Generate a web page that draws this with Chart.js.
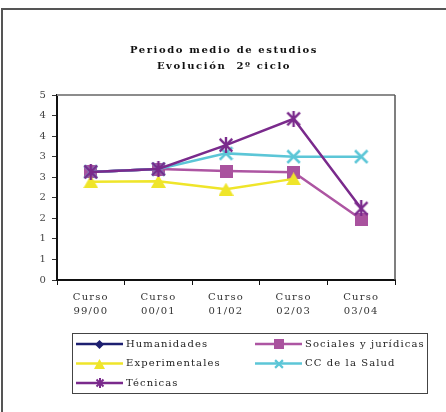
<!DOCTYPE html>
<html>
<head>
<meta charset="utf-8">
<script src="https://cdn.jsdelivr.net/npm/chart.js@4/dist/chart.umd.min.js"></script>
<style>
  html, body { margin: 0; padding: 0; background: #fff; }
  #wrap { width: 446px; height: 412px; position: relative; }
</style>
</head>
<body>
<div id="wrap"><canvas id="c" width="446" height="412"></canvas></div>
<script>
// Courses (two-line category labels)
const categories = [
  ['Curso', '99/00'],
  ['Curso', '00/01'],
  ['Curso', '01/02'],
  ['Curso', '02/03'],
  ['Curso', '03/04']
];

// Average study period, second cycle, by branch
const humanidades    = [2.63, 2.70, null, null, null];
const sociales       = [2.63, 2.70, 2.65, 2.62, 1.48];
const experimentales = [2.39, 2.40, 2.21, 2.46, null];
const ccSalud        = [2.63, 2.70, 3.08, 3.00, 3.00];
const tecnicas       = [2.63, 2.70, 3.28, 3.92, 1.74];

const seriesNames = ['Humanidades', 'Sociales y jurídicas', 'Experimentales', 'CC de la Salud', 'Técnicas'];

// Value axis range and step (labels shown without decimals)
const yMin = 0, yMax = 4.5, yStep = 0.5;

const COLORS = {
  hum: '#1d1f70',
  soc: '#ad55a2',
  socFill: '#a9529e',
  exp: '#efe52a',
  cc:  '#5cc6d7',
  tec: '#7a2a8c'
};

// ---- marker sprites ----
function sprite(w, h, draw) {
  const c = document.createElement('canvas');
  c.width = w; c.height = h;
  draw(c.getContext('2d'), w, h);
  return c;
}
function diamond(s, color) {
  return sprite(s, s, (g, w, h) => {
    g.fillStyle = color;
    g.beginPath();
    g.moveTo(w / 2, 0); g.lineTo(w, h / 2); g.lineTo(w / 2, h); g.lineTo(0, h / 2);
    g.closePath(); g.fill();
  });
}
function square(s, color) {
  return sprite(s, s, (g, w, h) => { g.fillStyle = color; g.fillRect(0, 0, w, h); });
}
function triangle(w0, h0, color) {
  return sprite(w0, h0, (g, w, h) => {
    g.fillStyle = color;
    g.beginPath();
    g.moveTo(w / 2, 0); g.lineTo(w, h); g.lineTo(0, h);
    g.closePath(); g.fill();
  });
}
function cross(s, color, lw) {
  return sprite(s, s, (g, w, h) => {
    g.strokeStyle = color; g.lineWidth = lw; g.lineCap = 'butt';
    const p = lw / 2;
    g.beginPath();
    g.moveTo(p, p); g.lineTo(w - p, h - p);
    g.moveTo(w - p, p); g.lineTo(p, h - p);
    g.stroke();
  });
}
function star(s, color, lw) {
  return sprite(s, s, (g, w, h) => {
    g.strokeStyle = color; g.lineWidth = lw;
    const p = lw / 2 + 0.5;
    g.beginPath();
    g.moveTo(p, p); g.lineTo(w - p, h - p);
    g.moveTo(w - p, p); g.lineTo(p, h - p);
    g.moveTo(w / 2, 0); g.lineTo(w / 2, h);
    g.stroke();
  });
}

const markers = [
  diamond(10, COLORS.hum),
  square(13, COLORS.socFill),
  triangle(15, 13, COLORS.exp),
  cross(15, COLORS.cc, 2.5),
  star(16, COLORS.tec, 2.4)
];
const legendMarkers = [
  diamond(9, COLORS.hum),
  square(10, COLORS.socFill),
  triangle(11, 10, COLORS.exp),
  cross(10, COLORS.cc, 2.2),
  star(10, COLORS.tec, 2)
];
const lineColors = [COLORS.hum, COLORS.soc, COLORS.exp, COLORS.cc, COLORS.tec];

const SERIF = '"DejaVu Serif", serif';

// Wider letter spacing for all canvas text
const spacingPlugin = {
  id: 'spacing',
  beforeLayout(chart) { chart.ctx.letterSpacing = '1.2px'; },
  beforeDraw(chart) { chart.ctx.letterSpacing = '1.2px'; }
};

// Outer frame and plot-area border
const framePlugin = {
  id: 'frame',
  beforeDatasetsDraw(chart) {
    const { ctx, chartArea: a } = chart;
    ctx.save();
    ctx.strokeStyle = '#555';
    ctx.lineWidth = 2;
    ctx.beginPath();
    ctx.moveTo(2, 412); ctx.lineTo(2, 9); ctx.lineTo(446, 9);
    ctx.stroke();
    ctx.strokeStyle = '#8c8c8c';
    ctx.beginPath();
    ctx.moveTo(a.left, a.top); ctx.lineTo(a.right, a.top);
    ctx.stroke();
    ctx.strokeStyle = '#555';
    ctx.lineWidth = 1.5;
    ctx.beginPath();
    ctx.moveTo(a.right, a.top); ctx.lineTo(a.right, a.bottom);
    ctx.stroke();
    ctx.restore();
  }
};

// Two-line bold title
const titlePlugin = {
  id: 'titleBlock',
  afterDraw(chart) {
    const { ctx } = chart;
    ctx.save();
    ctx.letterSpacing = '1.6px';
    ctx.font = 'bold 10px ' + SERIF;
    ctx.fillStyle = '#111';
    ctx.textAlign = 'center';
    ctx.textBaseline = 'middle';
    ctx.fillText('Periodo medio de estudios', 224, 50);
    ctx.fillText('Evolución  2º ciclo', 224, 66);
    ctx.restore();
  }
};

// Boxed legend in two columns
const legendPlugin = {
  id: 'boxLegend',
  afterDraw(chart) {
    const { ctx } = chart;
    ctx.save();
    ctx.strokeStyle = '#444';
    ctx.lineWidth = 1;
    ctx.strokeRect(72.5, 333.5, 355, 60);
    const cols = [76, 255];
    const rows = [344, 363.5, 383];
    ctx.letterSpacing = '1.1px';
    ctx.font = '10px ' + SERIF;
    ctx.textBaseline = 'middle';
    ctx.textAlign = 'left';
    seriesNames.forEach((name, i) => {
      const x = cols[i % 2], y = rows[Math.floor(i / 2)];
      ctx.strokeStyle = lineColors[i];
      ctx.lineWidth = 2.5;
      ctx.beginPath();
      ctx.moveTo(x, y); ctx.lineTo(x + 47, y);
      ctx.stroke();
      const m = legendMarkers[i];
      ctx.drawImage(m, Math.round(x + 23.5 - m.width / 2), Math.round(y - m.height / 2));
      ctx.fillStyle = '#222';
      ctx.fillText(name, x + 50, y);
    });
    ctx.restore();
  }
};

const seriesData = [humanidades, sociales, experimentales, ccSalud, tecnicas];

const datasets = seriesData.map((vals, i) => ({
  label: seriesNames[i],
  data: vals,
  borderColor: lineColors[i],
  backgroundColor: lineColors[i],
  borderWidth: 2.5,
  pointStyle: markers[i],
  pointRadius: 7,
  pointHoverRadius: 7,
  tension: 0,
  spanGaps: false,
  order: 5 - i
}));

new Chart(document.getElementById('c'), {
  type: 'line',
  data: { labels: categories, datasets },
  options: {
    responsive: false,
    animation: false,
    devicePixelRatio: 1,
    layout: { padding: { top: 95, right: 51, bottom: 92, left: 0 } },
    plugins: {
      legend: { display: false },
      title: { display: false },
      tooltip: { enabled: false }
    },
    scales: {
      x: {
        type: 'category',
        offset: true,
        grid: {
          offset: true,
          drawOnChartArea: false,
          drawTicks: true,
          tickLength: 5,
          color: '#111',
          lineWidth: 1
        },
        border: { color: '#111', width: 2 },
        ticks: {
          font: { family: SERIF, size: 10, lineHeight: 1.4 },
          color: '#333',
          padding: 5,
          maxRotation: 0,
          autoSkip: false
        },
        afterFit(s) { s.height = 40; }
      },
      y: {
        min: yMin,
        max: yMax,
        grid: {
          drawOnChartArea: false,
          drawTicks: true,
          tickLength: 5,
          color: '#333',
          lineWidth: 1
        },
        border: { color: '#111', width: 2 },
        ticks: {
          stepSize: yStep,
          font: { family: SERIF, size: 10 },
          color: '#444',
          padding: 5,
          callback: v => String(Math.round(v))
        },
        afterFit(s) { s.width = 57; }
      }
    }
  },
  plugins: [spacingPlugin, framePlugin, titlePlugin, legendPlugin]
});
</script>
</body>
</html>
